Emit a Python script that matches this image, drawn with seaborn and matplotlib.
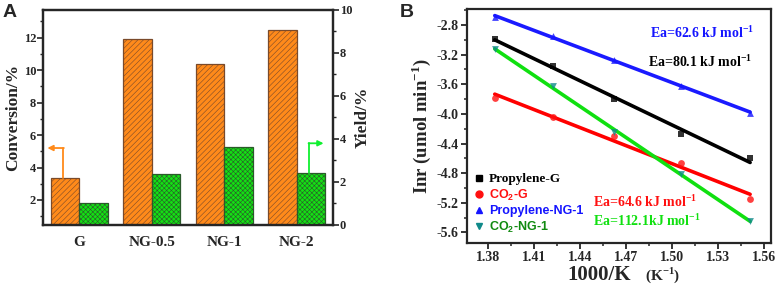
import numpy as np
import pandas as pd
import matplotlib
matplotlib.use("Agg")
import matplotlib.pyplot as plt
from matplotlib.lines import Line2D
from matplotlib.font_manager import FontProperties
from matplotlib.ticker import MultipleLocator, FormatStrFormatter
import seaborn as sns

# ---------------- data ----------------
catalysts = ["G", "NG-0.5", "NG-1", "NG-2"]
conversion = [3.35, 11.93, 10.40, 12.45]
yield_pct = [1.01, 2.35, 3.61, 2.41]

inv_T = [1.3843, 1.4221, 1.4623, 1.5057, 1.5510]
propylene_G = [-2.989, -3.349, -3.799, -4.276, -4.600]
co2_G = [-3.780, -4.047, -4.295, -4.668, -5.154]
propylene_NG1 = [-2.696, -2.944, -3.273, -3.624, -3.984]
co2_NG1 = [-3.128, -3.624, -4.241, -4.812, -5.447]

series_names = ["Propylene-G", "CO$_\\mathsf{2}$-G", "Propylene-NG-1", "CO$_\\mathsf{2}$-NG-1"]
ea_labels = ["Ea=80.1 kJ mol$^{\\mathbf{-1}}$", "Ea=64.6 kJ mol$^{\\mathbf{-1}}$",
             "Ea=62.6 kJ mol$^{\\mathbf{-1}}$", "Ea=112.1kJ mol$^{\\mathbf{-1}}$"]

# ---------------- style ----------------
sns.set_style("ticks")
plt.rcParams["font.family"] = ["Liberation Serif", "DejaVu Serif"]
plt.rcParams["font.weight"] = "bold"
plt.rcParams["axes.labelweight"] = "bold"
plt.rcParams["mathtext.fontset"] = "custom"
plt.rcParams["mathtext.rm"] = "Liberation Serif:bold"
plt.rcParams["mathtext.bf"] = "Liberation Serif:bold"
plt.rcParams["mathtext.sf"] = "Liberation Sans:bold"
plt.rcParams["axes.unicode_minus"] = False
plt.rcParams["hatch.linewidth"] = 0.4

fig = plt.figure(figsize=(7.75, 2.89), dpi=100)
axA = fig.add_axes([0.0555, 0.2215, 0.3742, 0.7439])
axB = fig.add_axes([0.6022, 0.160, 0.3926, 0.8078])

# ---------------- Panel A ----------------
BW = 0.395
df_c = pd.DataFrame({"cat": catalysts, "val": conversion})
df_y = pd.DataFrame({"cat": catalysts, "val": yield_pct})
sns.barplot(data=df_c, x="cat", y="val", color="#FF8A1A", saturation=1,
            width=BW, ax=axA, order=catalysts)
for p in axA.patches:
    p.set_x(p.get_x() + p.get_width() / 2 - BW)
    p.set_hatch("//////")
    p.set_edgecolor("#7a4a2a")
    p.set_linewidth(0.9)

axA2 = axA.twinx()
sns.barplot(data=df_y, x="cat", y="val", color="#14E014", saturation=1,
            width=BW, ax=axA2, order=catalysts)
for p in axA2.patches:
    p.set_x(p.get_x() + p.get_width() / 2)
    p.set_hatch("xxxxxxx")
    p.set_edgecolor("#2a5a2a")
    p.set_linewidth(0.9)

axA.set_xlim(-0.5, 3.5)
axA.set_ylim(0.46, 13.7)
axA2.set_ylim(0, 10)
axA.yaxis.set_major_locator(MultipleLocator(2))
axA.yaxis.set_minor_locator(MultipleLocator(1))
axA2.yaxis.set_major_locator(MultipleLocator(2))
axA2.yaxis.set_minor_locator(MultipleLocator(1))
axA.set_xlabel("")
axA2.set_xlabel("")
axA.set_ylabel("Conversion/%", fontsize=12.5, fontweight="bold", labelpad=2)
axA2.set_ylabel("Yield/%", fontsize=12.5, fontweight="bold", labelpad=2)
axA.tick_params(axis="x", length=0, labelsize=11, pad=8)
axA.tick_params(axis="y", which="major", direction="out", length=4, width=1.2, labelsize=9, pad=1)
axA.tick_params(axis="y", which="minor", direction="out", length=2.5, width=1.0)
axA2.tick_params(axis="y", which="major", direction="out", length=4, width=1.2, labelsize=9, pad=1)
axA2.tick_params(axis="y", which="minor", direction="out", length=2.5, width=1.0)
for ax in (axA, axA2):
    for s in ax.spines.values():
        s.set_linewidth(1.6)
        s.set_visible(True)
    for lab in ax.get_xticklabels() + ax.get_yticklabels():
        lab.set_fontweight("bold")

# indicator arrows
xG = 0 - BW / 2 - 0.02
axA.plot([xG, xG], [conversion[0], 5.2], color="#FF8A1A", lw=1.3, zorder=5)
axA.annotate("", xy=(-0.44, 5.2), xytext=(xG + 0.005, 5.2),
             arrowprops=dict(arrowstyle="-|>", color="#FF8A1A", lw=1.3,
                             mutation_scale=8, shrinkA=0, shrinkB=0), zorder=5)
xN = 3 + BW / 2 - 0.03
axA2.plot([xN, xN], [yield_pct[3], 3.8], color="#10F030", lw=1.3, zorder=5)
axA2.annotate("", xy=(3.37, 3.8), xytext=(xN - 0.005, 3.8),
              arrowprops=dict(arrowstyle="-|>", color="#10F030", lw=1.3,
                              mutation_scale=8, shrinkA=0, shrinkB=0), zorder=5)

fig.text(0.003, 0.985, "A", fontsize=14, fontweight="bold",
         family="Liberation Sans", va="top", ha="left")

# ---------------- Panel B ----------------
series = [propylene_G, co2_G, propylene_NG1, co2_NG1]
marker_colors = ["#000000", "#FF1010", "#1515FF", "#108A8A"]
line_colors = ["#000000", "#FF0000", "#1a1aFF", "#10E010"]
markers = ["s", "o", "^", "v"]
for vals, mc, lc, mk in zip(series, marker_colors, line_colors, markers):
    sns.regplot(x=np.array(inv_T), y=np.array(vals), ax=axB, ci=None, truncate=True,
                marker=mk, scatter_kws=dict(color=mc, s=24, zorder=3, linewidths=0),
                line_kws=dict(color=lc, lw=2.6, zorder=2))

axB.set_xlim(1.366, 1.5646)
axB.set_ylim(-5.74, -2.588)
axB.xaxis.set_major_locator(MultipleLocator(0.03))
axB.xaxis.set_minor_locator(MultipleLocator(0.015))
axB.yaxis.set_major_locator(MultipleLocator(0.4))
axB.yaxis.set_minor_locator(MultipleLocator(0.2))
axB.xaxis.set_major_formatter(FormatStrFormatter("%.2f"))
axB.yaxis.set_major_formatter(FormatStrFormatter("%.1f"))
axB.tick_params(which="major", direction="out", length=4, width=1.3, labelsize=10, pad=2)
axB.tick_params(which="minor", direction="out", length=2.5, width=1.1)
for s in axB.spines.values():
    s.set_linewidth(1.6)
    s.set_visible(True)
for lab in axB.get_xticklabels() + axB.get_yticklabels():
    lab.set_fontweight("bold")
axB.set_xlabel("")
fig.text(567 / 775, 9 / 289, "1000/K", fontsize=15, fontweight="bold",
         ha="left", va="baseline")
fig.text(645 / 775, 9 / 289, "(K$^{\\mathbf{-1}}$)", fontsize=11, fontweight="bold",
         ha="left", va="baseline")
axB.set_ylabel("Inr (umol min$^{\\mathbf{-1}}$)", fontsize=13.5, fontweight="bold", labelpad=2)

# Ea annotations
ea_pos = [(1.4842, -3.30), (1.4485, -5.19), (1.4854, -2.908), (1.4485, -5.447)]
ea_colors = ["#000000", "#FF1010", "#1515FF", "#10E010"]
for lab, (px, py), c in zip(ea_labels, ea_pos, ea_colors):
    axB.text(px, py, lab, color=c, fontsize=10, fontweight="bold", ha="left", va="center")

# legend
handles = [Line2D([], [], ls="none", marker=m, color=c, markersize=5)
           for m, c in zip(markers, marker_colors)]
leg = axB.legend(handles, series_names, loc="lower left", frameon=False,
                 bbox_to_anchor=(0.0, 0.002), borderaxespad=0.2, handletextpad=0.4,
                 labelspacing=0.2, handlelength=0.8,
                 prop=dict(family="Liberation Sans", weight="bold", size=9))
text_colors = ["#000000", "#FF1010", "#1515FF", "#108A10"]
for t, c in zip(leg.get_texts(), text_colors):
    t.set_color(c)
leg.get_texts()[0].set_fontproperties(FontProperties(family="Liberation Serif",
                                                     weight="bold", size=9.5))

fig.text(0.516, 0.985, "B", fontsize=14, fontweight="bold",
         family="Liberation Sans", va="top", ha="left")

fig.savefig("out.png", dpi=100)
